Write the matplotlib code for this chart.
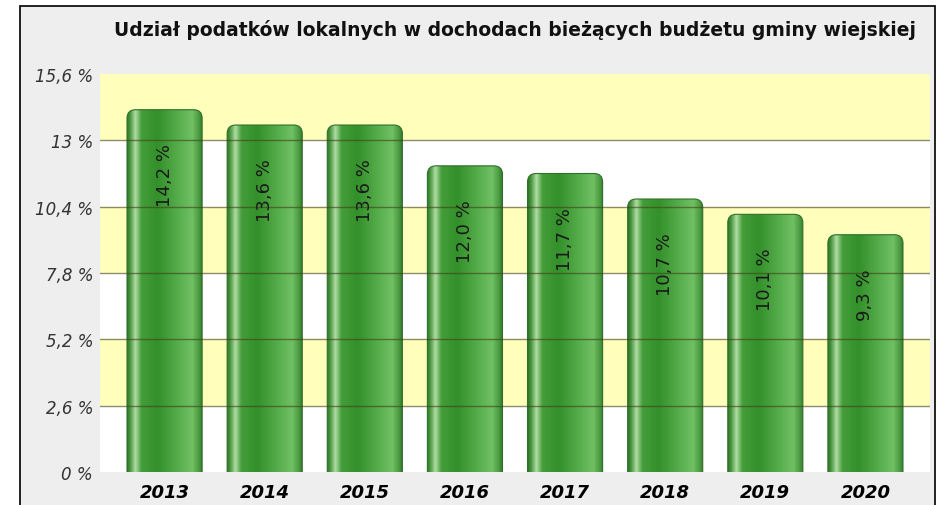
import numpy as np
import matplotlib
matplotlib.use("Agg")
import matplotlib.pyplot as plt
from matplotlib.patches import Rectangle, FancyBboxPatch
from matplotlib.colors import LinearSegmentedColormap

# data
years = ["2013", "2014", "2015", "2016", "2017", "2018", "2019", "2020"]
shares = [14.2, 13.6, 13.6, 12.0, 11.7, 10.7, 10.1, 9.3]
ticks = [0, 2.6, 5.2, 7.8, 10.4, 13, 15.6]
tick_labels = ["0 %", "2,6 %", "5,2 %", "7,8 %", "10,4 %", "13 %", "15,6 %"]
title = "Udział podatków lokalnych w dochodach bieżących budżetu gminy wiejskiej"

W, H = 941, 506
fig = plt.figure(figsize=(W / 100, H / 100), dpi=100, facecolor="white")

# grey panel with black border (runs off the bottom edge)
fig.patches.append(Rectangle((20 / W, -0.05), 915 / W, 1.05 - 7 / H,
                             transform=fig.transFigure, facecolor="#eeeeee",
                             edgecolor="#111111", lw=1.3, zorder=-5))

ax = fig.add_axes([100 / W, (H - 473) / H, 830 / W, 398 / H])
ax.set_zorder(1)
ax.set_facecolor("white")
ax.set_xlim(-0.645, 7.645)
ax.set_ylim(0, 15.6)
for s in ax.spines.values():
    s.set_visible(False)

# alternate yellow bands
for i, (lo, hi) in enumerate(zip(ticks[:-1], ticks[1:])):
    if i % 2 == 1:
        ax.axhspan(lo, hi, color="#ffffbb", zorder=0, lw=0)

# bars: plain geometry from ax.bar, then cylinder gradient clipped to a rounded box
x = np.arange(len(years))
bars = ax.bar(x, shares, width=0.75, color="none", zorder=2)

cyl = LinearSegmentedColormap.from_list("cyl", [
    (0.00, "#2c7427"),
    (0.04, "#4a963f"),
    (0.11, "#b0dca4"),
    (0.19, "#459d3a"),
    (0.40, "#33902a"),
    (0.70, "#5ab04f"),
    (0.86, "#70c064"),
    (0.95, "#4b9a41"),
    (1.00, "#2c7427"),
])
grad = np.linspace(0, 1, 256).reshape(1, -1)
aspect = (15.6 / 398) / (8.29 / 830)
for b in bars:
    x0, w, h = b.get_x(), b.get_width(), b.get_height()
    clip = FancyBboxPatch((x0, -1), w, h + 1,
                          boxstyle="round,pad=0,rounding_size=0.085",
                          mutation_aspect=aspect, facecolor="none",
                          edgecolor="#2f6f2a", lw=0.8, zorder=3)
    ax.add_patch(clip)
    im = ax.imshow(grad, cmap=cyl, aspect="auto", extent=(x0, x0 + w, 0, h),
                   zorder=2.5, interpolation="bilinear")
    im.set_clip_path(clip)
    ax.annotate(f"{h:.1f} %".replace(".", ","), (x0 + w / 2, h),
                xytext=(0, -24), textcoords="offset points",
                rotation=90, ha="center", va="top",
                fontsize=13, color="#1a1a1a", zorder=5)

# grid lines drawn over the bars
for t in ticks[1:-1]:
    ax.axhline(t, color="#404018", alpha=0.6, lw=1.0, zorder=4)

ax.set_yticks(ticks)
ax.set_yticklabels(tick_labels, fontsize=12, style="italic", color="#333333")
ax.set_xticks(x)
ax.set_xticklabels(years, fontsize=13, style="italic", weight="bold", color="black")
ax.tick_params(axis="both", length=0)
ax.tick_params(axis="y", pad=5)
ax.tick_params(axis="x", pad=8)

fig.text(515 / W, 1 - 30 / H, title, ha="center", va="center",
         fontsize=13.5, weight="bold", color="#111111")

fig.savefig("out.png", dpi=100, facecolor="white")
